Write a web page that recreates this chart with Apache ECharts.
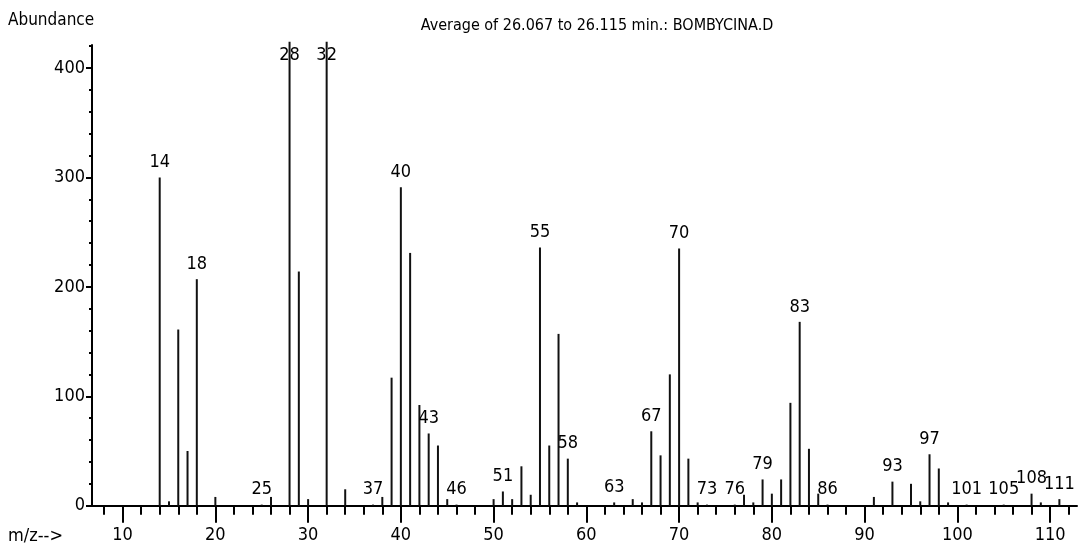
<!DOCTYPE html>
<html><head><meta charset="utf-8">
<script src="https://cdn.jsdelivr.net/npm/echarts@6/dist/echarts.min.js"></script>
<style>html,body{margin:0;padding:0;background:#fff}#c{width:1081px;height:556px}</style>
</head><body><div id="c"></div>
<script>
const titleText = 'Average of 26.067 to 26.115 min.: BOMBYCINA.D';
const yAxisTitle = 'Abundance';
const xAxisTitle = 'm/z-->';
// m/z of each peak and its abundance (28 and 32 run off the top of the scale)
const mzValues   = [14, 15, 16, 17, 18, 20, 25, 26, 28, 29, 30, 32, 34, 37, 38, 39, 40, 41, 42, 43, 44, 45, 46, 50, 51, 52, 53, 54, 55, 56, 57, 58, 59, 63, 65, 66, 67, 68, 69, 70, 71, 72, 73, 76, 77, 78, 79, 80, 81, 82, 83, 84, 85, 86, 91, 93, 95, 96, 97, 98, 99, 101, 105, 108, 109, 111];
const abundances = [300, 4, 161, 50, 207, 8, 1, 8, 424, 214, 6, 424, 15, 1, 8, 117, 291, 231, 92, 66, 55, 6, 1, 6, 13, 6, 36, 10, 236, 55, 157, 43, 3, 3, 6, 3, 68, 46, 120, 235, 43, 3, 1, 1, 10, 3, 24, 11, 24, 94, 168, 52, 11, 1, 8, 22, 20, 4, 47, 34, 3, 1, 1, 11, 3, 6];
const labeledMz  = [14, 18, 25, 28, 32, 37, 40, 43, 46, 51, 55, 58, 63, 67, 70, 73, 76, 79, 83, 86, 93, 97, 101, 105, 108, 111];
const xMajorTicks = [10, 20, 30, 40, 50, 60, 70, 80, 90, 100, 110];
const xMinorTicks = [8, 12, 14, 16, 18, 22, 24, 26, 28, 32, 34, 36, 38, 42, 44, 46, 48, 52, 54, 56, 58, 62, 64, 66, 68, 72, 74, 76, 78, 82, 84, 86, 88, 92, 94, 96, 98, 102, 104, 106, 108, 112];
const yMajorTicks = [0, 100, 200, 300, 400];
const yMinorTicks = [20, 40, 60, 80, 120, 140, 160, 180, 220, 240, 260, 280, 320, 340, 360, 380, 420];

const X_MIN = 6.7, X_MAX = 112.9, Y_MAX = 421;
const FONT = "'Liberation Sans Narrow','DejaVu Sans Condensed','Liberation Sans',sans-serif";
const INK = '#000';
const LABEL_SIZE = 18;

const chart = echarts.init(document.getElementById('c'), null, {renderer: 'canvas'});

const seriesData = mzValues.map((m, i) => {
  const v = abundances[i];
  const labelled = labeledMz.indexOf(m) >= 0;
  const off = v > Y_MAX;
  return {
    value: [m, v],
    label: labelled ? {
      show: true,
      position: off ? 'insideTop' : 'top',
      distance: off ? 5 : 6,
      formatter: String(m),
      fontFamily: FONT, fontSize: LABEL_SIZE, color: INK
    } : {show: false}
  };
});

const tickStyle = {color: INK, width: 2};

chart.setOption({
  animation: false,
  backgroundColor: '#fff',
  grid: {left: 92, right: 4, top: 45, bottom: 50.3, containLabel: false},
  title: {
    text: titleText, left: 592, top: 13, textAlign: 'center',
    textStyle: {fontFamily: FONT, fontSize: 16, fontWeight: 'normal', color: INK}
  },
  graphic: [
    {type: 'text', left: 8, top: 12, style: {text: yAxisTitle, fontFamily: FONT, fontSize: 17, fill: INK}},
    {type: 'text', left: 8, top: 527, style: {text: xAxisTitle, fontFamily: FONT, fontSize: 18, fill: INK}}
  ],
  xAxis: [
    {
      type: 'value', min: X_MIN, max: X_MAX,
      axisLine: {show: true, onZero: true, lineStyle: {color: INK, width: 2}},
      axisTick: {show: true, customValues: xMajorTicks, length: 17, lineStyle: tickStyle},
      axisLabel: {show: true, customValues: xMajorTicks, margin: 21, fontFamily: FONT, fontSize: LABEL_SIZE, color: INK},
      splitLine: {show: false}
    },
    {
      type: 'value', min: X_MIN, max: X_MAX, position: 'bottom',
      axisLine: {show: false},
      axisTick: {show: true, customValues: xMinorTicks, length: 9, lineStyle: tickStyle},
      axisLabel: {show: false},
      splitLine: {show: false}
    }
  ],
  yAxis: [
    {
      type: 'value', min: 0, max: Y_MAX,
      axisLine: {show: true, lineStyle: {color: INK, width: 2}},
      axisTick: {show: true, customValues: yMajorTicks, length: 6, lineStyle: tickStyle},
      axisLabel: {show: true, customValues: yMajorTicks, margin: 7, fontFamily: FONT, fontSize: LABEL_SIZE, color: INK},
      splitLine: {show: false}
    },
    {
      type: 'value', min: 0, max: Y_MAX, position: 'left',
      axisLine: {show: false},
      axisTick: {show: true, customValues: yMinorTicks, length: 3, lineStyle: tickStyle},
      axisLabel: {show: false},
      splitLine: {show: false}
    }
  ],
  series: [{
    type: 'bar',
    xAxisIndex: 0, yAxisIndex: 0,
    barWidth: 2,
    clip: false,
    itemStyle: {color: '#111'},
    data: seriesData
  }]
});
</script>
</body></html>
